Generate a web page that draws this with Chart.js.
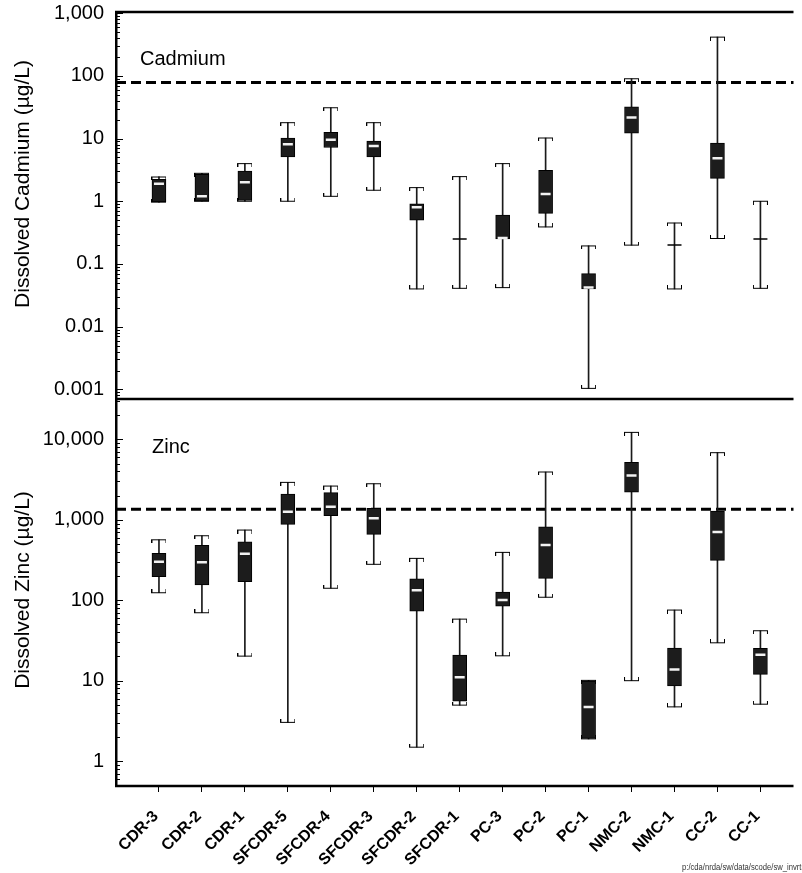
<!DOCTYPE html>
<html>
<head>
<meta charset="utf-8">
<script src="https://cdn.jsdelivr.net/npm/chart.js@4.4.1/dist/chart.umd.min.js"></script>
<style>
  html, body { margin: 0; padding: 0; background: #fff; }
</style>
</head>
<body>
<canvas id="boxChart" width="802" height="873"></canvas>
<script>
// stations, upstream to downstream
var categories = ['CDR-3', 'CDR-2', 'CDR-1', 'SFCDR-5', 'SFCDR-4', 'SFCDR-3', 'SFCDR-2', 'SFCDR-1',
                  'PC-3', 'PC-2', 'PC-1', 'NMC-2', 'NMC-1', 'CC-2', 'CC-1'];

// dissolved cadmium (ug/L): min, 25th, median, 75th, max
var cdMin    = [0.97, 1.0, 1.0, 1.0, 1.2, 1.5, 0.040, 0.041, 0.042, 0.39, 0.00104, 0.20, 0.040, 0.255, 0.041];
var cdQ1     = [0.98, 1.0, 1.03, 5.1, 7.2, 5.1, 0.50, null, 0.25, 0.64, 0.040, 12.2, null, 2.32, null];
var cdMedian = [1.9, 1.2, 2.0, 8.1, 9.6, 7.6, 0.80, 0.25, 0.26, 1.31, 0.042, 21.6, 0.20, 4.84, 0.25];
var cdQ3     = [2.24, 2.69, 3.04, 10.2, 12.5, 9.1, 0.906, null, 0.60, 3.12, 0.070, 32, null, 8.5, null];
var cdMax    = [2.44, 2.79, 3.98, 17.9, 31, 17.9, 1.65, 2.47, 3.98, 10.2, 0.194, 89.9, 0.45, 414, 1.0];

// dissolved zinc (ug/L)
var znMin    = [124, 70, 20.2, 3.03, 141, 280, 1.49, 4.97, 20.4, 109, 1.89, 10, 4.73, 29.6, 5.1];
var znQ1     = [196, 155, 170, 879, 1125, 660, 73.4, 5.57, 84.7, 187, 1.92, 2200, 8.6, 313, 12];
var znMedian = [301, 296, 379, 1262, 1455, 1045, 133, 11.0, 101, 486, 4.7, 3570, 13.8, 705, 21];
var znQ3     = [383, 482, 534, 2094, 2174, 1390, 184, 20.8, 126, 820, 9.9, 5190, 25.4, 1286, 25.2];
var znMax    = [565, 634, 747, 2925, 2630, 2811, 332, 58.3, 394, 3935, 10.1, 12250, 75.5, 6840, 41.8];

// dashed criteria lines
var cdCriterion = [78];
var znCriterion = [1350];

var panelNames = ['Cadmium', 'Zinc'];
var axisTitles = ['Dissolved Cadmium (\u00b5g/L)', 'Dissolved Zinc (\u00b5g/L)'];
var sourceNote = 'p:/cda/nrda/sw/data/scode/sw_invrts.sgf';

var FONT = '"Liberation Sans", Arial, Helvetica, sans-serif';

// whisker caps: a bar with little end ticks
function makeCap(down) {
  var c = document.createElement('canvas');
  c.width = 15; c.height = 7;
  var g = c.getContext('2d');
  g.fillStyle = '#000';
  g.fillRect(0, 3, 15, 1);
  if (down) { g.fillRect(0, 3, 1, 4); g.fillRect(14, 3, 1, 4); }
  else { g.fillRect(0, 0, 1, 4); g.fillRect(14, 0, 1, 4); }
  return c;
}
var capTop = makeCap(true);
var capBottom = makeCap(false);

function boxSets(axis, mins, q1, med, q3, max, criterion) {
  var whiskers = [], boxes = [], tops = [], bottoms = [], medians = [];
  categories.forEach(function(c, i) {
    var x = i + 1;
    whiskers.push({x: x, y: [mins[i], max[i]]});
    if (q1[i] != null) boxes.push({x: x, y: [q1[i], q3[i]]});
    tops.push({x: x, y: max[i]});
    bottoms.push({x: x, y: mins[i]});
    medians.push({x: x, y: med[i]});
  });
  return [
    {type: 'line', data: [{x: 0, y: criterion[0]}, {x: 17, y: criterion[0]}], yAxisID: axis,
     borderColor: '#000', borderWidth: 3, borderDash: [10, 5], pointRadius: 0, order: 6},
    {type: 'bar', data: whiskers, yAxisID: axis, grouped: false, barThickness: 1,
     backgroundColor: '#1a1a1a', borderWidth: 0, order: 5},
    {type: 'bar', data: boxes, yAxisID: axis, grouped: false, barThickness: 14,
     backgroundColor: '#1c1c1c', borderColor: '#000', borderWidth: 1, borderSkipped: false, order: 4},
    {type: 'scatter', data: tops, yAxisID: axis, pointStyle: capTop, order: 3},
    {type: 'scatter', data: bottoms, yAxisID: axis, pointStyle: capBottom, order: 3},
    {type: 'scatter', data: medians, yAxisID: axis, pointStyle: 'line', order: 1,
     pointRadius: function(ctx) { return q1[ctx.dataIndex] == null ? 7 : 5; },
     pointBorderWidth: function(ctx) { return q1[ctx.dataIndex] == null ? 1.5 : 2.5; },
     pointBorderColor: function(ctx) { return q1[ctx.dataIndex] == null ? '#000' : '#f2f2f2'; }}
  ];
}

function decadeLabel(v) {
  var lg = Math.log10(v), e = Math.round(lg);
  if (Math.abs(lg - e) > 1e-6) return '';
  return e >= 0 ? Math.pow(10, e).toLocaleString('en-US') : Math.pow(10, e).toFixed(-e);
}

function logAxis(min, max) {
  return {
    type: 'logarithmic', position: 'left', stack: 'panels', stackWeight: 1,
    min: min, max: max,
    border: {display: true, color: '#000', width: 2.5},
    grid: {display: false, drawTicks: false},
    ticks: {autoSkip: false, padding: 12, color: '#000', font: {family: FONT, size: 20},
            callback: decadeLabel},
    afterFit: function(s) { s.width = 116; s.paddingTop = 0; s.paddingBottom = 0; }
  };
}

// inward tick marks, panel frame, labels and axis titles
var panelDecor = {
  id: 'panelDecor',
  afterDraw: function(chart) {
    var ctx = chart.ctx, area = chart.chartArea;
    var cd = chart.scales.yCd, zn = chart.scales.yZn;
    ctx.save();
    ctx.strokeStyle = '#000';
    ctx.lineWidth = 1;
    [cd, zn].forEach(function(s) {
      s.ticks.forEach(function(t) {
        var v = t.value, e = Math.floor(Math.log10(v) + 1e-9), m = v / Math.pow(10, e);
        if (Math.abs(m - Math.round(m)) > 1e-6) return;
        var len = Math.round(m) === 1 ? 7 : 4;
        var y = Math.round(s.getPixelForValue(v)) + 0.5;
        ctx.beginPath();
        ctx.moveTo(area.left, y);
        ctx.lineTo(area.left + len, y);
        ctx.stroke();
      });
    });
    ctx.lineWidth = 2.5;
    [cd.top, zn.top, zn.bottom].forEach(function(y) {
      ctx.beginPath();
      ctx.moveTo(area.left - 1, y);
      ctx.lineTo(area.right, y);
      ctx.stroke();
    });

    ctx.fillStyle = '#000';
    ctx.font = '20px ' + FONT;
    ctx.textAlign = 'left';
    ctx.textBaseline = 'alphabetic';
    ctx.fillText(panelNames[0], 140, 65);
    ctx.fillText(panelNames[1], 152, 453);

    ctx.font = '21px ' + FONT;
    ctx.textAlign = 'center';
    ctx.textBaseline = 'middle';
    [[axisTitles[0], 184], [axisTitles[1], 590]].forEach(function(a) {
      ctx.save();
      ctx.translate(23, a[1]);
      ctx.rotate(-Math.PI / 2);
      ctx.fillText(a[0], 0, 0);
      ctx.restore();
    });

    ctx.save();
    ctx.translate(682, 870);
    ctx.scale(0.85, 1);
    ctx.font = '9px ' + FONT;
    ctx.fillStyle = '#333';
    ctx.textAlign = 'left';
    ctx.textBaseline = 'alphabetic';
    ctx.fillText(sourceNote, 0, 0);
    ctx.restore();
    ctx.restore();
  }
};

var ctx = document.getElementById('boxChart').getContext('2d');
var boxChart = new Chart(ctx, {
  type: 'bar',
  data: {
    datasets: boxSets('yZn', znMin, znQ1, znMedian, znQ3, znMax, znCriterion)
      .concat(boxSets('yCd', cdMin, cdQ1, cdMedian, cdQ3, cdMax, cdCriterion))
  },
  options: {
    responsive: false,
    animation: false,
    events: [],
    layout: {padding: {top: 12, left: 0, right: 0, bottom: 0}},
    plugins: {legend: {display: false}, tooltip: {enabled: false}},
    scales: {
      x: {
        type: 'linear', min: 0, max: 15.77, offset: false,
        border: {display: false},
        grid: {drawOnChartArea: false, drawTicks: true, tickLength: 6, color: '#000', offset: false},
        ticks: {
          stepSize: 1, includeBounds: false, autoSkip: false,
          maxRotation: 45, minRotation: 45, padding: 15, labelOffset: -3, color: '#000',
          font: {family: FONT, size: 16, weight: 'bold'},
          callback: function(v) {
            var i = Math.round(v);
            return (Math.abs(v - i) < 1e-6 && i >= 1 && i <= categories.length) ? categories[i - 1] : null;
          }
        },
        afterFit: function(s) { s.height = 87; s.paddingLeft = 0; s.paddingRight = 0; }
      },
      yZn: logAxis(0.49, 31800),
      yCd: logAxis(0.000703, 1041)
    }
  },
  plugins: [panelDecor]
});
</script>
</body>
</html>
